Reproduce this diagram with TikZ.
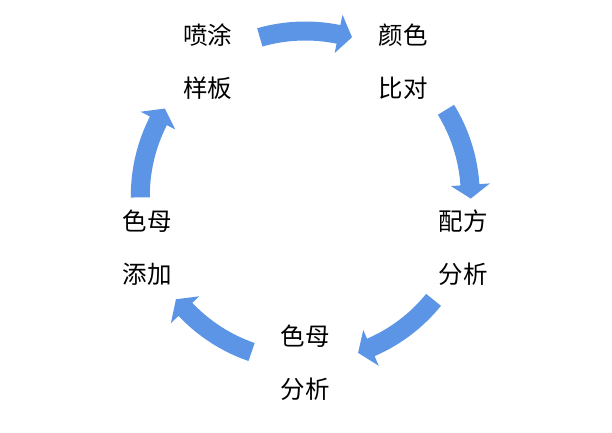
\documentclass[tikz,border=0pt]{standalone}
\usepackage{fontspec}
\newfontfamily\cjkfont{Noto Sans CJK SC}
\definecolor{arrowblue}{RGB}{92,149,229}
\tikzset{
  steplabel/.style={font=\cjkfont\fontsize{24.5}{53}\selectfont, align=center, inner sep=0pt, text=black},
  arrowfill/.style={fill=arrowblue, draw=none}
}
\newcommand{\cycarr}[1]{%
  \pgfmathsetmacro{\aT}{#1+16}%
  \pgfmathsetmacro{\aH}{#1-11.6}%
  \pgfmathsetmacro{\aP}{#1-16.4}%
  \fill[arrowfill] ([shift={(C)}]\aT:174.5pt) arc[start angle=\aT, end angle=\aH, radius=174.5pt]
    -- ([shift={(C)}]\aH:185pt) -- ([shift={(C)}]\aP:165.5pt) -- ([shift={(C)}]\aH:146pt)
    -- ([shift={(C)}]\aH:155.5pt) arc[start angle=\aH, end angle=\aT, radius=155.5pt] -- cycle;}
\begin{document}
\begin{tikzpicture}
\useasboundingbox (0,0) rectangle (612pt,432pt);
\fill[white] (0,0) rectangle (612pt,432pt);
\coordinate (C) at (305.3pt,236pt);
\node[steplabel] (n1) at ([shift={(C)}]126:166.3pt) {喷涂\\样板};
\node[steplabel] (n2) at ([shift={(C)}]54:166.3pt) {颜色\\比对};
\node[steplabel] (n3) at ([shift={(C)}]-18:166.3pt) {配方\\分析};
\node[steplabel] (n4) at ([shift={(C)}]-90:166.3pt) {色母\\分析};
\node[steplabel] (n5) at ([shift={(C)}]198:166.3pt) {色母\\添加};
\cycarr{90}
\cycarr{15.5}
\cycarr{-55}
\cycarr{-125}
\cycarr{164.5}
\end{tikzpicture}
\end{document}
